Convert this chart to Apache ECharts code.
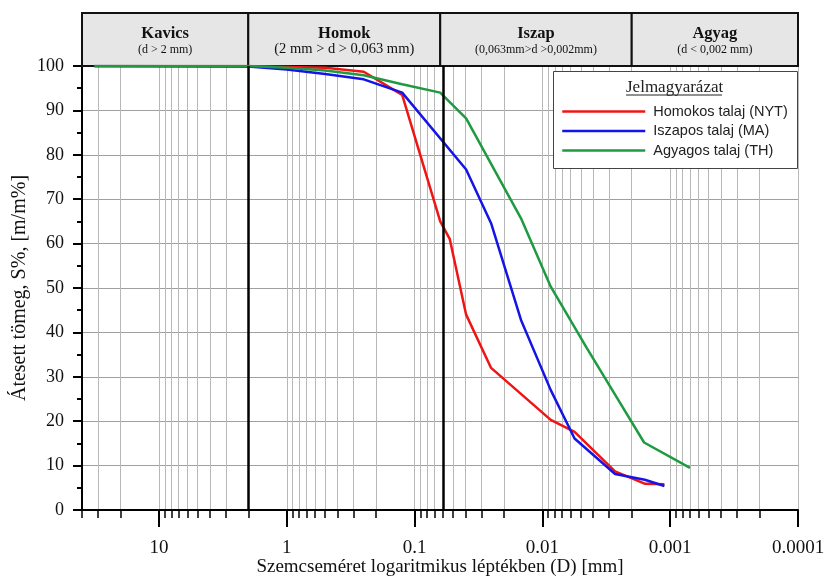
<!DOCTYPE html>
<html><head><meta charset="utf-8">
<script src="https://cdn.jsdelivr.net/npm/echarts@6/dist/echarts.min.js"></script>
<style>html,body{margin:0;padding:0;background:#fff}#c{width:825px;height:579px}</style>
</head><body><div id="c"></div>
<script>
// ---------- data ----------
const seriesNames = ['Homokos talaj (NYT)', 'Iszapos talaj (MA)', 'Agyagos talaj (TH)'];
const redD   = [32, 2, 1, 0.5, 0.25, 0.125, 0.063, 0.053, 0.0395, 0.0252, 0.0086, 0.0056, 0.0027, 0.00157, 0.00111];
const redV   = [100, 100, 99.8, 99.6, 98.7, 93.5, 65, 61, 44, 32, 20.3, 17.6, 8.7, 5.9, 5.8];
const blueD  = [32, 2, 1, 0.5, 0.25, 0.125, 0.0395, 0.0252, 0.0147, 0.0086, 0.0056, 0.0027, 0.00158, 0.00111];
const blueV  = [100, 99.9, 99.2, 98.2, 97.0, 94.0, 76.7, 64.6, 42.8, 27.0, 16.1, 8.1, 6.8, 5.4];
const greenD = [32, 2, 1, 0.5, 0.25, 0.125, 0.063, 0.0395, 0.0147, 0.0086, 0.0045, 0.0027, 0.0016, 0.0007];
const greenV = [100, 100, 99.6, 99.0, 97.9, 95.9, 94.0, 88.2, 65.7, 50.3, 36.5, 26.0, 15.2, 9.5];

const xMajorTicks = [10, 1, 0.1, 0.01, 0.001, 0.0001];
const xTickLabels = ['10', '1', '0.1', '0.01', '0.001', '0.0001'];
const xMinorTicks = [40, 30, 20,
  9, 8, 7, 6, 5, 4, 3, 2,
  0.9, 0.8, 0.7, 0.6, 0.5, 0.4, 0.3, 0.2,
  0.09, 0.08, 0.07, 0.06, 0.05, 0.04, 0.03, 0.02,
  0.009, 0.008, 0.007, 0.006, 0.005, 0.004, 0.003, 0.002,
  0.0009, 0.0008, 0.0007, 0.0006, 0.0005, 0.0004, 0.0003, 0.0002];
const xMin = 0.0001, xMax = 40;

const zoneBounds = [40, 2, 0.063, 0.002, 0.0001];
const zoneTitles = ['Kavics', 'Homok', 'Iszap', 'Agyag'];
const zoneSubs = ['(d > 2 mm)', '(2 mm > d > 0,063 mm)', '(0,063mm>d >0,002mm)', '(d < 0,002 mm)'];

const xTitle = 'Szemcseméret logaritmikus léptékben (D) [mm]';
const yTitle = 'Átesett tömeg, S%, [m/m%]';
const legendTitle = 'Jelmagyarázat';
// ---------------------------

const SERIF = "'Liberation Serif', 'Times New Roman', serif";
const SANS = "'Liberation Sans', Arial, sans-serif";
const colors = ['#f01414', '#1414e6', '#1e9a40'];

const pairs = (xs, ys) => xs.map((d, i) => [d, ys[i]]);

const chart = echarts.init(document.getElementById('c'), null, {renderer: 'canvas'});

function labelFor(v) {
  for (let i = 0; i < xMajorTicks.length; i++) {
    if (Math.abs(Math.log10(v) - Math.log10(xMajorTicks[i])) < 1e-6) return xTickLabels[i];
  }
  return '';
}

const baseX = {type: 'log', logBase: 10, inverse: true, min: xMin, max: xMax};

const option = {
  animation: false,
  backgroundColor: '#fff',
  grid: [
    {left: 82, right: 27, top: 66, bottom: 69, outerBoundsMode: 'none', containLabel: false},
    {left: 82, right: 27, top: 13, height: 53, outerBoundsMode: 'none', containLabel: false}
  ],
  xAxis: [
    Object.assign({}, baseX, {
      gridIndex: 0, position: 'bottom',
      axisLine: {show: true, lineStyle: {color: '#000', width: 2}},
      axisTick: {show: true, customValues: xMajorTicks, length: 17, inside: false, lineStyle: {color: '#000', width: 2}},
      axisLabel: {show: true, customValues: xMajorTicks, formatter: labelFor, margin: 29,
        fontFamily: SERIF, fontSize: 19, color: '#111'},
      splitLine: {show: false},
      minorTick: {show: false},
      name: xTitle, nameLocation: 'middle', nameGap: 48, nameMoveOverlap: false,
      nameTextStyle: {fontFamily: SERIF, fontSize: 19, color: '#111'}
    }),
    Object.assign({}, baseX, {
      gridIndex: 0, position: 'bottom',
      axisLine: {show: false},
      axisTick: {show: true, customValues: xMajorTicks.concat(xMinorTicks), length: 8, inside: false, lineStyle: {color: '#000', width: 1.5}},
      axisLabel: {show: false},
      splitLine: {show: true, lineStyle: {color: '#b8b8b8', width: 1}},
      minorTick: {show: false}
    }),
    Object.assign({}, baseX, {gridIndex: 1, show: false})
  ],
  yAxis: [
    {
      gridIndex: 0, type: 'value', min: 0, max: 100, interval: 10,
      axisLine: {show: true, lineStyle: {color: '#000', width: 2}},
      axisTick: {show: true, length: 9, inside: false, lineStyle: {color: '#000', width: 2}},
      minorTick: {show: true, splitNumber: 2, length: 5, lineStyle: {color: '#000', width: 2}},
      axisLabel: {margin: 18, fontFamily: SERIF, fontSize: 18, color: '#111'},
      splitLine: {show: true, lineStyle: {color: '#a0a0a0', width: 1}},
      name: yTitle, nameLocation: 'middle', nameGap: 52, nameRotate: 90, nameMoveOverlap: false,
      nameTextStyle: {fontFamily: SERIF, fontSize: 20, color: '#111'}
    },
    {gridIndex: 1, type: 'value', min: 0, max: 1, show: false}
  ],
  legend: {
    orient: 'vertical', left: 561, top: 104, padding: 0,
    itemWidth: 83, itemHeight: 14, itemGap: 4.5,
    z: 6, selectedMode: false,
    itemStyle: {color: 'rgba(0,0,0,0)', borderColor: 'rgba(0,0,0,0)', borderWidth: 0, opacity: 0},
    lineStyle: {width: 2.5},
    textStyle: {fontFamily: SANS, fontSize: 14.5, color: '#222', padding: [0, 0, 0, 3]},
    data: seriesNames
  },
  graphic: [
    {type: 'rect', left: 553, top: 71, z: 4, shape: {width: 244, height: 97},
      style: {fill: '#fff', stroke: '#444', lineWidth: 1}},
    {type: 'text', left: 626, top: 79, z: 6,
      style: {text: legendTitle, font: "17px " + SERIF, fill: '#222'}},
    {type: 'line', z: 6, shape: {x1: 626, y1: 95, x2: 722, y2: 95},
      style: {stroke: '#222', lineWidth: 1}}
  ],
  series: [
    {
      name: 'zones', type: 'line', xAxisIndex: 2, yAxisIndex: 1, data: [], silent: true,
      markArea: {
        silent: true,
        itemStyle: {color: '#e6e6e6', borderColor: '#111', borderWidth: 2},
        label: {show: true, position: 'inside', color: '#111', fontFamily: SERIF, padding: [3, 0, 0, 0],
          rich: {
            t: {fontSize: 16.5, fontWeight: 'bold', lineHeight: 17, fontFamily: SERIF, color: '#111'},
            s: {fontSize: 12, lineHeight: 15, fontFamily: SERIF, color: '#111'},
            s2: {fontSize: 14.5, lineHeight: 15, fontFamily: SERIF, color: '#111'}
          }},
        data: zoneTitles.map((t, i) => [
          {name: t, xAxis: zoneBounds[i], yAxis: 0,
            label: {formatter: '{t|' + t + '}\n{' + (i === 1 ? 's2' : 's') + '|' + zoneSubs[i] + '}'}},
          {xAxis: zoneBounds[i + 1], yAxis: 1}
        ])
      }
    },
    {
      name: 'dividers', type: 'line', xAxisIndex: 0, yAxisIndex: 0, data: [], silent: true, z: 2,
      markLine: {
        silent: true, symbol: ['none', 'none'], label: {show: false},
        lineStyle: {color: '#000', width: 2.5, type: 'solid'},
        data: zoneBounds.slice(1, 4).map(b => ({xAxis: b}))
      }
    },
    {name: seriesNames[0], type: 'line', xAxisIndex: 0, yAxisIndex: 0, data: pairs(redD, redV),
      symbol: 'none', z: 3, color: colors[0], lineStyle: {color: colors[0], width: 2.5}},
    {name: seriesNames[1], type: 'line', xAxisIndex: 0, yAxisIndex: 0, data: pairs(blueD, blueV),
      symbol: 'none', z: 3, color: colors[1], lineStyle: {color: colors[1], width: 2.5}},
    {name: seriesNames[2], type: 'line', xAxisIndex: 0, yAxisIndex: 0, data: pairs(greenD, greenV),
      symbol: 'none', z: 3, color: colors[2], lineStyle: {color: colors[2], width: 2.5}}
  ]
};
chart.setOption(option);
</script></body></html>
